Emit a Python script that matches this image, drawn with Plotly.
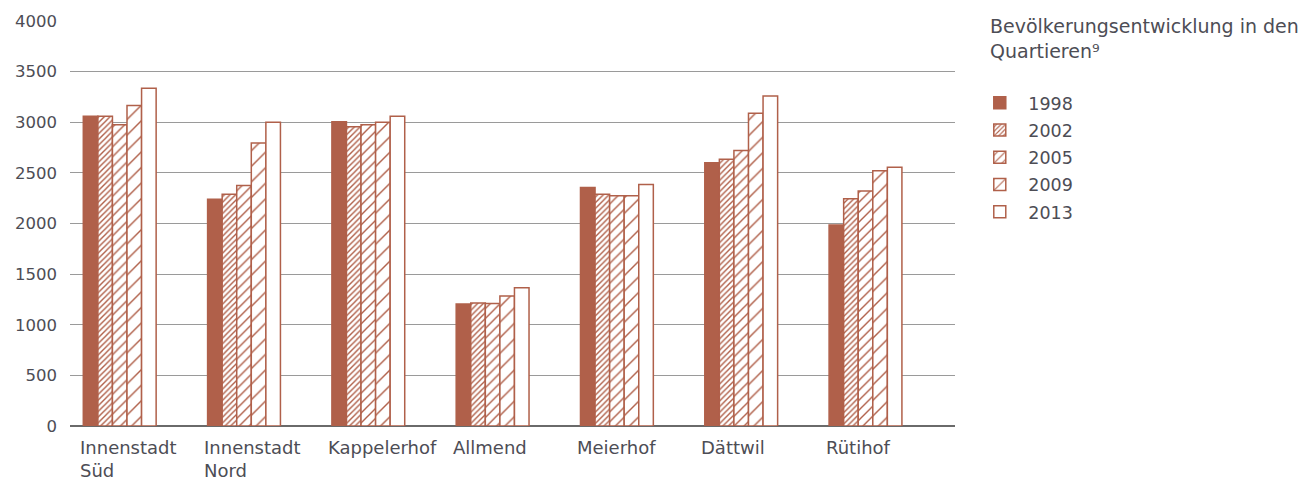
import plotly.graph_objects as go

# Districts and population counts per survey year
quartiere = ["Innenstadt<br>Süd", "Innenstadt<br>Nord", "Kappelerhof", "Allmend",
             "Meierhof", "Dättwil", "Rütihof"]
jahre = ["1998", "2002", "2005", "2009", "2013"]
werte_1998 = [3060, 2240, 3005, 1205, 2355, 2600, 1985]
werte_2002 = [3060, 2290, 2955, 1215, 2290, 2635, 2245]
werte_2005 = [2975, 2375, 2975, 1210, 2275, 2720, 2320]
werte_2009 = [3165, 2795, 3000, 1285, 2275, 3090, 2520]
werte_2013 = [3335, 3000, 3060, 1365, 2385, 3260, 2555]
serien = [werte_1998, werte_2002, werte_2005, werte_2009, werte_2013]
y_ticks = [0, 500, 1000, 1500, 2000, 2500, 3000, 3500, 4000]
titel = "Bevölkerungsentwicklung in den<br>Quartieren⁹"

BRAUN = "#b0604a"
TEXT = "#4d4d55"
FONT = "DejaVu Sans"

# hatch density per series: None = solid, "" = empty
muster = [
    None,
    dict(shape="/", size=4, solidity=0.35),
    dict(shape="/", size=7, solidity=0.2),
    dict(shape="/", size=11, solidity=0.13),
    "",
]

x_pos = list(range(len(quartiere)))
fig = go.Figure()
for jahr, werte, m in zip(jahre, serien, muster):
    if m is None:
        marker = dict(color=BRAUN, line=dict(color=BRAUN, width=1.5))
    elif m == "":
        marker = dict(color="white", line=dict(color=BRAUN, width=1.5))
    else:
        marker = dict(color="white", line=dict(color=BRAUN, width=1.5),
                      pattern=dict(fgcolor=BRAUN, bgcolor="white",
                                   fillmode="replace", **m))
    fig.add_trace(go.Bar(x=x_pos, y=werte, name=jahr, marker=marker,
                         legendgroup=jahr))

# left-aligned district labels under each bar group
for i, q in enumerate(quartiere):
    fig.add_annotation(x=i, y=0, xref="x", yref="y", text=q, showarrow=False,
                       xanchor="left", yanchor="top", align="left",
                       xshift=-42, yshift=-9,
                       font=dict(family=FONT, size=18, color=TEXT))

# legend heading
fig.add_annotation(x=1.0, y=1.0, xref="paper", yref="paper", text=titel,
                   showarrow=False, xanchor="left", yanchor="top", align="left",
                   xshift=33, yshift=8,
                   font=dict(family=FONT, size=19, color=TEXT))

fig.update_layout(
    width=1300, height=483,
    margin=dict(l=70, r=345, t=17, b=57),
    paper_bgcolor="white", plot_bgcolor="white",
    barmode="group", bargap=0.414, bargroupgap=0,
    font=dict(family=FONT, size=16, color=TEXT),
    showlegend=True,
    legend=dict(
        x=1.0184, y=0.842, xanchor="left", yanchor="top",
        font=dict(family=FONT, size=17.5, color=TEXT),
        tracegroupgap=1.5, itemwidth=47,
    ),
    xaxis=dict(range=[-0.4, 6.72], showticklabels=False, showgrid=False,
               zeroline=False, showline=False, ticks=""),
    yaxis=dict(range=[0, 4000], tickvals=y_ticks, showgrid=True,
               gridcolor="#9a9a9a", gridwidth=1, zeroline=True,
               zerolinecolor="#6a6a6a", zerolinewidth=1.5, showline=False,
               ticks="", ticklabelstandoff=12,
               tickfont=dict(family=FONT, size=16.5, color=TEXT)),
)

fig.write_html("out.html")
